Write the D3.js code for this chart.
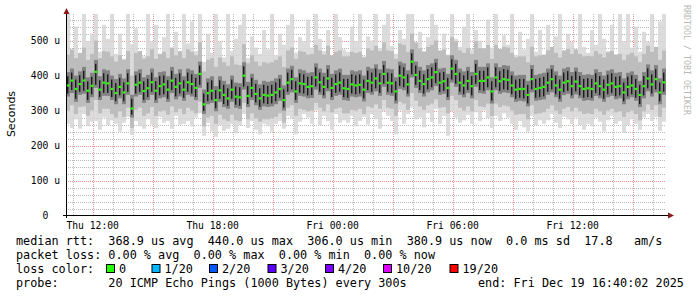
<!DOCTYPE html>
<html>
<head>
<meta charset="utf-8">
<script src="https://cdn.jsdelivr.net/npm/d3@7"></script>
<style>
  body { margin: 0; background: #fff; }
  svg text { white-space: pre; }
</style>
</head>
<body>
<svg id="chart" width="697" height="297"></svg>
<script>
// median rtt per 12 min slot (us), Thu 10:40 .. Fri 16:40
var med = [
  372,386,362,376,386,357,371,411,360,380, 378,362,350,368,352,378,306,374,380,356,
  364,381,357,370,375,360,386,368,378,360, 381,376,365,405,318,350,357,330,358,345,
  335,360,340,338,400,342,365,348,335,345, 343,345,352,362,330,380,390,355,378,376,
  368,370,395,381,368,392,365,376,380,364, 362,375,372,374,360,385,380,392,378,405,
  380,378,355,400,395,375,440,402,385,376, 390,395,410,380,384,365,420,405,380,372,
  385,370,405,385,385,395,355,395,384,390, 388,372,360,362,362,345,390,362,365,368,
  380,390,372,360,380,384,370,383,370,362, 364,362,378,370,360,374,378,368,370,352,
  368,372,362,345,370,392,375,390,352,381
];
var q1 = [
  340,350,325,345,348,322,338,365,330,342, 342,330,318,335,318,345,280,340,345,322,
  330,345,322,335,338,325,350,332,340,328, 345,340,330,365,290,318,322,298,325,310,
  305,325,308,305,360,310,330,315,302,312, 310,312,318,328,300,345,352,322,342,340,
  335,336,360,345,335,355,330,342,345,330, 328,340,338,340,326,350,345,355,342,368,
  345,342,320,362,358,340,395,365,350,340, 352,358,370,345,348,330,380,368,345,338,
  350,335,368,350,348,358,320,358,348,352, 350,338,325,328,326,312,352,328,330,332,
  345,352,338,325,344,348,335,346,335,328, 330,328,342,335,325,338,342,332,335,318,
  332,338,328,310,335,355,340,352,318,345
];
var q3 = [
  410,420,400,412,425,395,408,445,398,418, 415,400,390,405,392,418,345,412,418,395,
  402,420,395,410,412,398,425,405,418,398, 420,415,405,440,360,392,398,370,398,385,
  375,400,380,378,438,382,405,388,375,385, 382,385,392,402,372,420,428,395,418,415,
  408,410,435,420,408,430,405,415,420,402, 402,415,412,415,400,425,420,432,418,442,
  420,418,395,440,435,415,475,440,425,415, 430,435,448,420,422,405,458,445,420,412,
  425,410,445,425,425,435,395,435,424,430, 428,412,400,402,402,385,430,402,405,408,
  420,430,412,400,420,424,410,423,410,402, 404,402,418,410,400,414,418,408,410,392,
  408,412,402,385,410,432,415,430,392,420
];
var p10 = [
  300,315,290,310,312,285,300,330,292,305, 305,290,280,298,282,308,250,302,308,285,
  292,310,285,298,300,288,312,295,305,290, 308,300,292,325,255,280,285,262,288,275,
  270,288,272,270,322,275,292,278,268,275, 275,278,282,292,265,308,315,285,305,302,
  298,300,322,308,298,318,295,305,308,292, 292,302,300,305,290,312,308,318,305,330,
  308,305,285,325,320,302,350,328,312,302, 315,320,332,308,310,292,342,330,308,300,
  312,298,330,312,310,320,285,320,310,315, 312,300,288,290,290,275,315,290,292,295,
  305,315,300,290,305,310,298,308,298,290, 292,290,305,298,288,300,305,295,298,282,
  295,300,290,272,298,318,302,315,282,308
];
var p90 = [
  460,475,450,465,480,445,462,500,450,470, 468,455,440,458,445,470,400,465,470,448,
  455,475,448,462,468,450,480,458,470,450, 475,468,458,495,412,445,450,425,452,438,
  428,455,432,430,490,435,458,440,428,438, 435,438,445,455,425,472,480,448,470,468,
  460,462,488,472,460,485,458,468,472,455, 455,468,465,468,452,478,472,485,470,495,
  472,470,448,492,488,468,520,495,478,468, 482,488,500,472,475,458,510,498,472,465,
  478,462,498,478,478,488,448,488,476,482, 480,465,452,455,455,438,482,455,458,460,
  472,482,465,452,472,476,462,475,462,455, 456,455,470,462,452,466,470,460,462,445,
  460,465,455,438,462,485,468,482,445,472
];
var lo = [
  262,250,275,248,290,255,268,270,245,280, 258,272,262,240,265,282,230,270,255,248,
  275,260,250,282,265,270,248,285,260,262, 270,255,280,292,228,265,240,225,258,242,
  248,262,235,258,290,250,270,245,232,262, 255,240,262,270,248,285,278,232,268,290,
  280,262,300,258,285,270,245,290,265,272, 265,285,255,270,282,260,290,275,248,298,
  285,270,232,300,262,290,308,275,280,252, 292,268,305,262,285,228,298,280,265,272,
  288,262,295,270,300,278,250,285,270,292, 280,262,245,270,252,240,285,258,272,262,
  272,290,265,250,282,275,262,280,258,245, 262,255,280,268,240,272,285,262,270,236,
  258,275,262,245,280,290,270,282,242,268
];
var hi = [
  576,470,540,455,580,498,520,580,468,545, 505,580,462,520,448,580,490,535,470,455,
  580,498,545,462,510,580,478,525,450,580, 492,555,470,580,438,520,465,580,498,452,
  580,470,505,545,580,450,512,480,462,530, 475,580,458,520,488,545,580,466,510,498,
  560,480,580,505,470,530,455,580,510,475, 468,540,498,580,455,512,500,580,478,545,
  580,485,462,530,505,580,580,480,525,470, 510,580,545,470,520,460,580,505,482,540,
  580,475,530,500,465,560,480,580,470,515, 488,580,458,525,475,505,580,468,530,455,
  545,468,512,580,460,520,495,470,580,482, 465,530,488,580,505,470,545,460,580,498,
  580,480,540,468,525,498,580,472,555,580
];

var yTicks = [0, 100, 200, 300, 400, 500];

var legend1 = "median rtt:  368.9 us avg  440.0 us max  306.0 us min  380.9 us now  0.0 ms sd  17.8   am/s";
var legend2 = "packet loss: 0.00 % avg  0.00 % max  0.00 % min  0.00 % now";
var lossLabels = ["0", "1/20", "2/20", "3/20", "4/20", "10/20", "19/20"];
var lossColors = ["#26ff00", "#00b8ff", "#0059ff", "#5e00ff", "#7e00ff", "#dd00ff", "#ff0000"];
var lossX = [106, 151.5, 209, 267.5, 325, 383, 449.5];
var probeText = "probe:       20 ICMP Echo Pings (1000 Bytes) every 300s";
var endText = "end: Fri Dec 19 16:40:02 2025";

var start = new Date(2025, 11, 18, 10, 40);
var end = new Date(2025, 11, 19, 16, 40);
var step = 12 * 60 * 1000;

var svg = d3.select("#chart");
var mono = "'DejaVu Sans Mono', monospace";

var x = d3.scaleTime().domain([start, end]).range([66, 666]);
var y = d3.scaleLinear().domain([0, 576]).range([215.5, 14]);

// grid first, the smoke covers it
var grid = svg.append("g").attr("stroke-width", 1).attr("fill", "none");
var minorY = d3.range(20, 576, 20).filter(function(v) { return v % 100 !== 0; });
grid.selectAll(".hy").data(minorY).enter().append("line")
  .attr("x1", 66).attr("x2", 666)
  .attr("y1", function(v) { return Math.round(y(v)) + 0.5; })
  .attr("y2", function(v) { return Math.round(y(v)) + 0.5; })
  .attr("stroke", "#bababa").attr("stroke-dasharray", "1,1");
var hours = d3.timeHour.range(start, end);
grid.selectAll(".vx").data(hours.filter(function(h) { return h.getHours() % 3 !== 0; }))
  .enter().append("line")
  .attr("y1", 14).attr("y2", 215)
  .attr("x1", function(h) { return Math.round(x(h)) + 0.5; })
  .attr("x2", function(h) { return Math.round(x(h)) + 0.5; })
  .attr("stroke", "#bababa").attr("stroke-dasharray", "1,1");
grid.selectAll(".my").data(yTicks.slice(1)).enter().append("line")
  .attr("x1", 66).attr("x2", 666)
  .attr("y1", function(v) { return Math.round(y(v)) + 0.5; })
  .attr("y2", function(v) { return Math.round(y(v)) + 0.5; })
  .attr("stroke", "#f09090").attr("stroke-dasharray", "1,1");
grid.selectAll(".mx").data(hours.filter(function(h) { return h.getHours() % 3 === 0; }))
  .enter().append("line")
  .attr("y1", 14).attr("y2", 215)
  .attr("x1", function(h) { return Math.round(x(h)) + 0.5; })
  .attr("x2", function(h) { return Math.round(x(h)) + 0.5; })
  .attr("stroke", "#f09090").attr("stroke-dasharray", "1,1");

var plot = svg.append("g");
plot.append("clipPath").attr("id", "clip")
  .append("rect").attr("x", 67).attr("y", 14).attr("width", 600).attr("height", 201);

var data = med.map(function(m, i) {
  return {t0: new Date(+start + i * step), t1: new Date(+start + (i + 1) * step),
          med: m, lo: lo[i], hi: hi[i], p10: p10[i], p90: p90[i], q1: q1[i], q3: q3[i]};
});

var smoke = plot.append("g").attr("clip-path", "url(#clip)");

function band(a, b, color, op) {
  smoke.append("g").attr("opacity", op).selectAll("rect")
    .data(data)
    .enter().append("rect")
      .attr("x", function(d) { return x(d.t0); })
      .attr("width", function(d) { return x(d.t1) - x(d.t0); })
      .attr("y", function(d) { return y(d[b]); })
      .attr("height", function(d) { return y(d[a]) - y(d[b]); })
      .attr("fill", color);
}
band("lo", "hi", "#d6d6d6", 0.85);
band("p10", "p90", "#bdbdbd", 1);
band("q1", "q3", "#838383", 1);

// black core streaks
smoke.append("g").selectAll("rect")
  .data(data)
  .enter().append("rect")
    .attr("x", function(d) { return x(d.t0) + 1; })
    .attr("width", 1.4)
    .attr("y", function(d) { return y(d.q3) + 4; })
    .attr("height", function(d) { return Math.max(0, y(d.q1) - y(d.q3) - 7); })
    .attr("fill", "#1a1a1a");

// median, coloured by loss (all 0 here)
smoke.append("g").selectAll("rect")
  .data(data)
  .enter().append("rect")
    .attr("x", function(d) { return x(d.t0) + 0.5; })
    .attr("width", 3)
    .attr("y", function(d) { return y(d.med) - 1; })
    .attr("height", 2.2)
    .attr("fill", lossColors[0]);

// axes
svg.append("line").attr("x1", 63).attr("x2", 670).attr("y1", 215.5).attr("y2", 215.5)
  .attr("stroke", "#000");
svg.append("line").attr("x1", 66.5).attr("x2", 66.5).attr("y1", 218).attr("y2", 11)
  .attr("stroke", "#000");
svg.append("path").attr("d", "M63.5,14L66.5,8L69.5,14Z").attr("fill", "#8b1a1a");
svg.append("path").attr("d", "M668,212.5L674,215.5L668,218.5Z").attr("fill", "#8b1a1a");

// y labels
svg.append("g").selectAll("text").data(yTicks).enter().append("text")
  .attr("x", 60).attr("y", function(v) { return y(v) + 3.5; })
  .attr("text-anchor", "end")
  .attr("font-family", mono).attr("font-size", "9.7px").attr("fill", "#000")
  .text(function(v) { return v === 0 ? "0  " : v + " u"; });

// x labels
var fmt = d3.timeFormat("%a %H:%M");
svg.append("g").selectAll("text")
  .data(hours.filter(function(h) { return h.getHours() % 6 === 0; }))
  .enter().append("text")
  .attr("x", function(h) { return x(h); }).attr("y", 228.5)
  .attr("text-anchor", "middle")
  .attr("font-family", mono).attr("font-size", "9.7px").attr("fill", "#000")
  .text(function(h) { return fmt(h); });

// y title
svg.append("text")
  .attr("transform", "translate(15,114) rotate(-90)")
  .attr("text-anchor", "middle")
  .attr("font-family", "'DejaVu Sans', sans-serif").attr("font-size", "11px")
  .text("Seconds");

// watermark
svg.append("text")
  .attr("transform", "translate(684,5) rotate(90)")
  .attr("font-family", mono).attr("font-size", "8.3px").attr("fill", "#b8b8b8")
  .text("RRDTOOL / TOBI OETIKER");

// legend
var lg = svg.append("g").attr("font-family", mono).attr("font-size", "11.8px").attr("fill", "#000");
lg.append("text").attr("x", 16).attr("y", 244.5).text(legend1);
lg.append("text").attr("x", 16).attr("y", 258.5).text(legend2);
lg.append("text").attr("x", 16).attr("y", 272.5).text("loss color:");
lossLabels.forEach(function(l, i) {
  lg.append("rect").attr("x", lossX[i] + 0.5).attr("y", 264.5).attr("width", 8).attr("height", 8)
    .attr("fill", lossColors[i]).attr("stroke", "#000").attr("stroke-width", 1);
  lg.append("text").attr("x", lossX[i] + 13).attr("y", 272.5).text(l);
});
lg.append("text").attr("x", 16).attr("y", 286.5).text(probeText);
lg.append("text").attr("x", 478).attr("y", 286.5).text(endText);
</script>
</body>
</html>
